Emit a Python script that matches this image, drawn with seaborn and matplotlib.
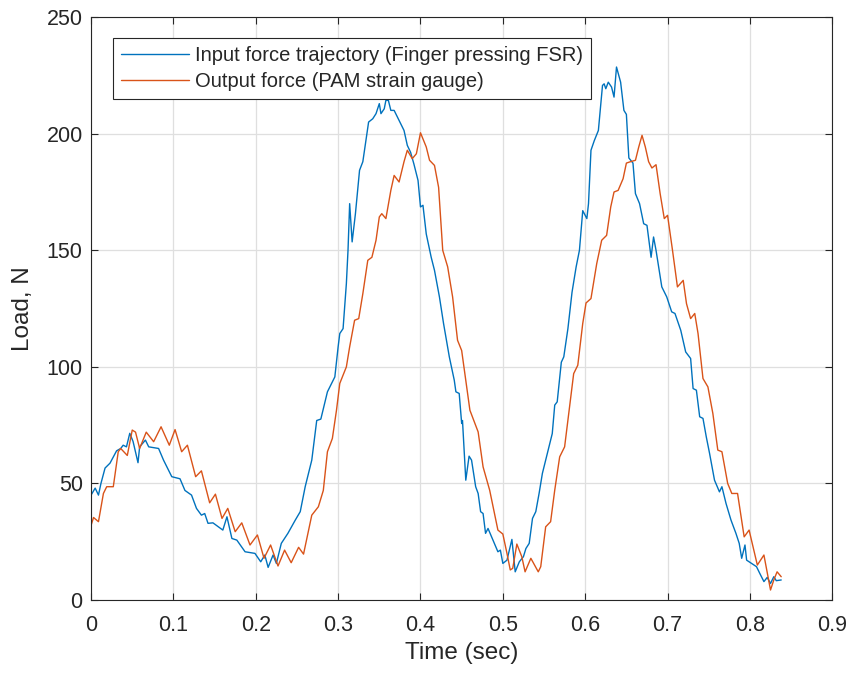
import numpy as np
import pandas as pd
import matplotlib
matplotlib.use("Agg")
import matplotlib.pyplot as plt
import seaborn as sns

# Input force (blue)
t_in = [0.000, 0.005, 0.009, 0.012, 0.017, 0.023, 0.031, 0.036, 0.039, 0.043, 0.047, 0.051,
        0.057, 0.059, 0.066, 0.070, 0.082, 0.088, 0.098, 0.108, 0.114, 0.122, 0.128, 0.134,
        0.138, 0.142, 0.148, 0.160, 0.165, 0.171, 0.177, 0.187, 0.199, 0.206, 0.211, 0.215,
        0.221, 0.225, 0.231, 0.239, 0.248, 0.254, 0.260, 0.268, 0.274, 0.279, 0.284, 0.287,
        0.293, 0.296, 0.300, 0.302, 0.306, 0.310, 0.312, 0.314, 0.317, 0.321, 0.326, 0.330,
        0.332, 0.337, 0.342, 0.346, 0.350, 0.352, 0.356, 0.358, 0.361, 0.364, 0.368, 0.374,
        0.380, 0.384, 0.388, 0.392, 0.397, 0.400, 0.403, 0.407, 0.413, 0.417, 0.423, 0.428,
        0.435, 0.441, 0.443, 0.447, 0.450, 0.451, 0.455, 0.459, 0.462, 0.467, 0.470, 0.473,
        0.476, 0.479, 0.482, 0.488, 0.494, 0.497, 0.500, 0.505, 0.507, 0.511, 0.515, 0.520,
        0.525, 0.528, 0.532, 0.536, 0.540, 0.544, 0.548, 0.555, 0.560, 0.563, 0.566, 0.571,
        0.574, 0.579, 0.584, 0.589, 0.593, 0.597, 0.602, 0.604, 0.607, 0.611, 0.616, 0.621,
        0.623, 0.625, 0.628, 0.632, 0.635, 0.638, 0.643, 0.647, 0.650, 0.653, 0.658, 0.661,
        0.666, 0.671, 0.675, 0.680, 0.683, 0.686, 0.693, 0.699, 0.705, 0.709, 0.716, 0.722,
        0.728, 0.731, 0.735, 0.739, 0.743, 0.747, 0.751, 0.757, 0.763, 0.766, 0.771, 0.777,
        0.783, 0.787, 0.790, 0.794, 0.796, 0.808, 0.812, 0.817, 0.821, 0.825, 0.829, 0.832,
        0.838]
f_in = [45.0, 48.0, 45.0, 50.0, 56.6, 58.7, 64.0, 65.0, 66.4, 65.7, 71.5, 68.0,
        58.9, 65.7, 68.6, 65.7, 65.0, 60.0, 52.9, 52.0, 47.0, 45.0, 39.3, 36.4,
        37.1, 32.9, 33.1, 30.0, 35.7, 26.4, 25.7, 20.7, 20.0, 16.4, 19.3, 14.0,
        19.3, 15.7, 24.3, 28.6, 34.3, 37.9, 48.6, 60.0, 77.0, 77.6, 85.0, 89.3,
        93.6, 95.7, 108.6, 114.3, 116.4, 135.7, 150.0, 170.0, 153.6, 165.7, 184.3, 188.0,
        192.9, 205.0, 206.4, 208.6, 212.9, 208.6, 210.7, 214.3, 214.3, 210.0, 210.0, 205.7,
        201.4, 195.0, 192.0, 187.0, 180.0, 168.6, 169.3, 157.0, 147.0, 141.4, 130.0, 118.6,
        104.3, 94.3, 89.3, 88.6, 75.7, 77.0, 51.4, 61.7, 60.0, 48.6, 45.7, 37.9,
        37.1, 28.6, 30.7, 25.7, 20.7, 21.4, 15.7, 17.1, 20.0, 26.0, 12.1, 16.4,
        18.6, 22.1, 24.3, 35.0, 37.9, 45.7, 54.3, 64.3, 71.4, 83.6, 85.0, 102.0,
        104.3, 116.4, 132.0, 142.9, 150.0, 167.0, 163.6, 170.0, 192.9, 197.0, 201.4, 220.7,
        221.4, 219.3, 222.1, 220.0, 215.7, 228.6, 222.1, 210.0, 208.3, 189.6, 187.4, 174.3,
        170.0, 161.4, 160.7, 147.0, 155.7, 150.0, 134.3, 130.0, 123.6, 122.9, 115.7, 106.4,
        103.6, 90.7, 90.0, 78.6, 77.9, 70.0, 62.9, 51.4, 46.4, 48.6, 41.4, 34.3,
        28.6, 24.3, 17.9, 23.6, 17.1, 14.3, 11.4, 7.9, 9.7, 7.1, 10.0, 8.3,
        8.6]

# Output force (orange)
t_out = [0.000, 0.003, 0.009, 0.015, 0.019, 0.027, 0.033, 0.036, 0.044, 0.050, 0.054, 0.059,
         0.067, 0.076, 0.085, 0.095, 0.102, 0.110, 0.117, 0.127, 0.134, 0.144, 0.151, 0.159,
         0.166, 0.175, 0.183, 0.193, 0.202, 0.210, 0.218, 0.227, 0.235, 0.243, 0.252, 0.258,
         0.268, 0.276, 0.282, 0.287, 0.293, 0.298, 0.302, 0.310, 0.314, 0.320, 0.325, 0.330,
         0.336, 0.341, 0.346, 0.350, 0.353, 0.358, 0.364, 0.368, 0.374, 0.380, 0.384, 0.390,
         0.395, 0.400, 0.407, 0.411, 0.417, 0.422, 0.427, 0.433, 0.439, 0.445, 0.450, 0.455,
         0.460, 0.470, 0.476, 0.484, 0.494, 0.500, 0.505, 0.509, 0.512, 0.517, 0.523, 0.527,
         0.534, 0.543, 0.546, 0.552, 0.558, 0.563, 0.569, 0.575, 0.580, 0.586, 0.591, 0.597,
         0.601, 0.607, 0.614, 0.620, 0.626, 0.631, 0.635, 0.640, 0.646, 0.650, 0.655, 0.661,
         0.665, 0.669, 0.673, 0.677, 0.681, 0.686, 0.691, 0.696, 0.700, 0.706, 0.712, 0.719,
         0.723, 0.728, 0.733, 0.737, 0.743, 0.749, 0.755, 0.761, 0.766, 0.773, 0.778, 0.785,
         0.793, 0.799, 0.809, 0.817, 0.825, 0.829, 0.833, 0.838]
f_out = [32.0, 35.4, 33.6, 45.7, 48.6, 48.6, 63.6, 65.0, 62.0, 72.9, 72.0, 65.0,
         72.0, 67.9, 74.3, 66.4, 73.1, 63.6, 66.4, 52.9, 55.4, 41.7, 45.4, 35.0,
         39.3, 29.3, 33.1, 23.6, 27.9, 17.9, 23.6, 14.6, 21.4, 16.0, 22.6, 19.7,
         36.4, 40.0, 47.0, 63.6, 69.3, 81.4, 92.9, 100.0, 108.6, 120.0, 120.7, 131.4,
         145.7, 147.0, 154.3, 164.3, 165.7, 163.6, 175.7, 182.1, 179.3, 188.0, 192.9, 189.3,
         191.4, 200.4, 194.3, 188.6, 186.4, 177.0, 150.0, 142.9, 130.0, 111.4, 107.0, 94.3,
         81.4, 72.1, 57.1, 47.1, 30.0, 28.3, 20.0, 12.9, 13.6, 24.0, 18.6, 12.1,
         17.9, 12.1, 14.3, 31.4, 33.6, 47.1, 61.4, 65.7, 80.0, 97.1, 100.7, 118.6,
         127.4, 129.3, 144.3, 154.3, 156.4, 168.6, 175.0, 175.7, 180.7, 187.4, 188.0, 188.6,
         194.3, 199.3, 194.3, 188.0, 185.3, 186.7, 174.3, 163.6, 165.0, 150.0, 134.3, 137.1,
         127.1, 120.7, 122.9, 114.3, 95.0, 91.4, 80.0, 64.3, 63.6, 50.0, 45.7, 45.7,
         27.1, 30.0, 15.0, 19.3, 4.3, 8.6, 12.1, 10.0]

labels = ["Input force trajectory (Finger pressing FSR)", "Output force (PAM strain gauge)"]
xticks = [0, 0.1, 0.2, 0.3, 0.4, 0.5, 0.6, 0.7, 0.8, 0.9]
xticklabels = ["0", "0.1", "0.2", "0.3", "0.4", "0.5", "0.6", "0.7", "0.8", "0.9"]
yticks = [0, 50, 100, 150, 200, 250]

df = pd.concat([
    pd.DataFrame({"Time": t_in, "Load": f_in, "series": labels[0]}),
    pd.DataFrame({"Time": t_out, "Load": f_out, "series": labels[1]}),
], ignore_index=True)

sns.set_theme(style="whitegrid")
plt.rcParams['font.family'] = ['Liberation Sans', 'DejaVu Sans']

fig = plt.figure(figsize=(8.51, 6.77), dpi=100)
ax = fig.add_axes([0.107, 0.1137, 0.871, 0.861])

sns.lineplot(data=df, x="Time", y="Load", hue="series", sort=False, estimator=None,
             palette=["#0072BD", "#D95319"], linewidth=1.0, ax=ax)

ax.set_xlim(0, 0.9)
ax.set_ylim(0, 250)
ax.set_xticks(xticks)
ax.set_xticklabels(xticklabels)
ax.set_yticks(yticks)
ax.grid(True, color="#DFDFDF", linewidth=0.9)
for s in ax.spines.values():
    s.set_visible(True)
    s.set_color("#262626")
    s.set_linewidth(0.8)
ax.tick_params(direction="in", length=5, width=0.8, color="#262626", labelsize=15.5,
               labelcolor="#262626", top=True, right=True, bottom=True, left=True)
ax.tick_params(axis="x", pad=11)
ax.tick_params(axis="y", pad=6)
ax.set_xlabel("Time (sec)", fontsize=17.5, color="#262626", labelpad=4)
ax.set_ylabel("Load, N", fontsize=17.5, color="#262626", labelpad=9)

leg = ax.legend(loc="upper left", bbox_to_anchor=(0.029, 0.965), fontsize=14.5,
                frameon=True, fancybox=False, edgecolor="#262626", framealpha=1,
                handlelength=3.4, borderpad=0.4, labelspacing=0.35, handletextpad=0.3,
                borderaxespad=0)
leg.get_frame().set_linewidth(0.8)
for line in leg.get_lines():
    line.set_linewidth(1.0)

fig.savefig("out.png", dpi=100)
